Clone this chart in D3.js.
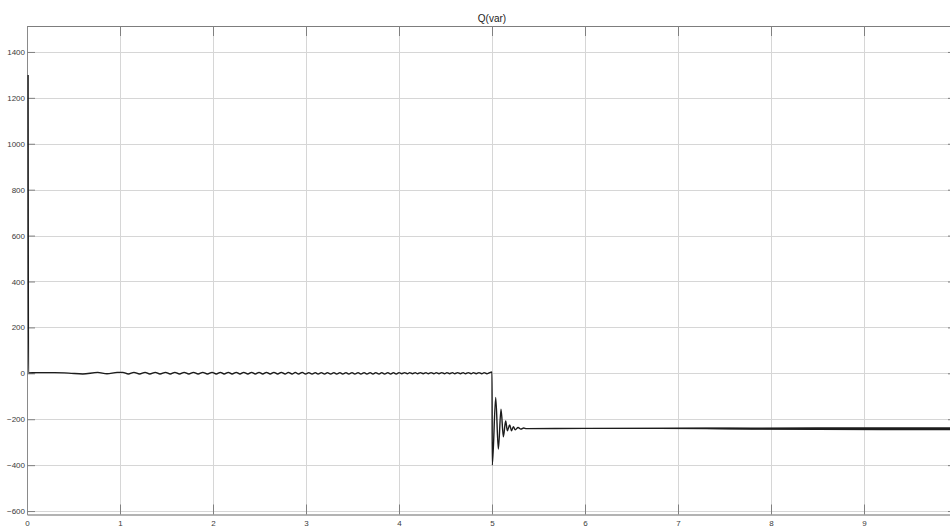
<!DOCTYPE html>
<html>
<head>
<meta charset="utf-8">
<script src="https://cdn.jsdelivr.net/npm/d3@7"></script>
<style>
  html, body { margin: 0; padding: 0; background: #fff; }
  svg { display: block; font-family: "Liberation Sans", Arial, sans-serif; }
</style>
</head>
<body>
<svg id="chart" width="950" height="527"></svg>
<script>
// ---- chart data ----------------------------------------------------------
const title = "Q(var)";
const xTicks = [0, 1, 2, 3, 4, 5, 6, 7, 8, 9];
const yTicks = [-600, -400, -200, 0, 200, 400, 600, 800, 1000, 1200, 1400];
const xDomain = [0, 10];
const yDomain = [-615, 1513];

// start-up spike and the first second near zero
const startT = [0.012, 0.016, 0.1, 0.3, 0.45, 0.6, 0.76, 0.86, 0.97];
const startQ = [1300, 2, 3, 3, 1, -3, 4, -2, 4];

// small oscillation around zero, 1 s .. 5 s (extrema)
const oscT = [
  1.03, 1.09, 1.15, 1.21, 1.27, 1.32, 1.38, 1.43, 1.49, 1.54, 1.59, 1.64, 1.69, 1.74, 1.79, 1.84, 1.89, 1.94, 1.99,
  2.035, 2.08, 2.12, 2.165, 2.205, 2.25, 2.29, 2.33, 2.375, 2.415, 2.455, 2.495, 2.535, 2.575, 2.615, 2.655, 2.695, 2.735, 2.775, 2.81, 2.85, 2.885, 2.92, 2.96, 2.995,
  3.03, 3.065, 3.1, 3.13, 3.165, 3.2, 3.23, 3.265, 3.3, 3.33, 3.365, 3.395, 3.43, 3.46, 3.495, 3.525, 3.56, 3.59, 3.625, 3.655, 3.69, 3.72, 3.75, 3.785, 3.815, 3.845, 3.88, 3.91, 3.94, 3.97,
  4.0, 4.03, 4.06, 4.09, 4.115, 4.145, 4.175, 4.2, 4.23, 4.26, 4.29, 4.315, 4.345, 4.375, 4.4, 4.43, 4.46, 4.49, 4.515, 4.545, 4.575, 4.6, 4.63, 4.66, 4.69, 4.715, 4.745, 4.775, 4.8, 4.83, 4.86, 4.89, 4.915, 4.945, 4.975
];
const oscQ = [
  4, -3, 4, -3, 4, -3, 4, -3, 4, -3, 4, -3, 4, -3, 4, -3, 4, -3, 4,
  -3, 4, -3, 4, -3, 4, -3, 4, -3, 4, -3, 4, -3, 4, -3, 4, -3, 4, -3, 4, -3, 4, -3, 4, -3,
  3, -3, 3, -3, 3, -3, 3, -3, 3, -3, 3, -3, 3, -3, 3, -3, 3, -3, 3, -3, 3, -3, 3, -3, 3, -3, 3, -3, 3, -3,
  3, -2, 3, -2, 3, -2, 3, -2, 3, -2, 3, -2, 3, -2, 3, -2, 3, -2, 3, -2, 3, -2, 3, -2, 3, -2, 3, -2, 3, -2, 3, -2, 3, -2, 3
];

// step at 5 s and the damped transient
const stepT = [5.0, 5.003, 5.04, 5.068, 5.097, 5.122, 5.147, 5.165, 5.19, 5.21, 5.23, 5.25, 5.28, 5.31, 5.34];
const stepQ = [6, -400, -105, -330, -156, -276, -208, -250, -225, -250, -232, -246, -236, -243, -238];

// settled level with its fast ripple (half band width)
const settleT = [5.37, 6.0, 6.8, 7.3, 7.8, 8.5, 9.2, 10];
const settleQ = [-241, -240, -240, -240, -241, -241, -241, -241];
const settleRipple = [2, 2, 2.5, 4, 5, 6, 6.5, 6.5];

// ---- layout ------------------------------------------------------------
const plot = { left: 27, right: 957, top: 26, bottom: 514.5 };

const x = d3.scaleLinear().domain(xDomain).range([plot.left, plot.right]);
const y = d3.scaleLinear().domain(yDomain).range([plot.bottom, plot.top]);

const svg = d3.select("#chart");

svg.append("defs").append("clipPath").attr("id", "plot-clip")
  .append("rect")
  .attr("x", plot.left).attr("y", plot.top)
  .attr("width", plot.right - plot.left).attr("height", plot.bottom - plot.top);

const crisp = v => Math.round(v) + 0.5;

// grid
const grid = svg.append("g").attr("stroke", "#d6d6d6").attr("stroke-width", 1);
grid.selectAll("line.gx").data(xTicks.filter(d => d > 0)).join("line")
  .attr("class", "gx")
  .attr("x1", d => crisp(x(d))).attr("x2", d => crisp(x(d)))
  .attr("y1", plot.top).attr("y2", plot.bottom);
grid.selectAll("line.gy").data(yTicks).join("line")
  .attr("class", "gy")
  .attr("x1", plot.left).attr("x2", plot.right)
  .attr("y1", d => crisp(y(d))).attr("y2", d => crisp(y(d)));

// axes
function styleAxis(g, domainColor, domainWidth) {
  g.select(".domain").attr("stroke", domainColor).attr("stroke-width", domainWidth);
  g.selectAll(".tick line").attr("stroke", "#808080");
  g.selectAll(".tick text").attr("fill", "#3a3a3a").attr("font-size", 8)
    .attr("font-family", "'Liberation Sans', Arial, sans-serif");
}

svg.append("g")
  .attr("transform", `translate(0,${plot.bottom})`)
  .call(d3.axisBottom(x).tickValues(xTicks).tickFormat(d3.format("d")).tickSize(-10).tickPadding(6).tickSizeOuter(0))
  .call(g => styleAxis(g, "#b3b3b3", 2));

svg.append("g")
  .attr("transform", `translate(0,${plot.top})`)
  .call(d3.axisTop(x).tickValues(xTicks).tickFormat("").tickSize(-10).tickSizeOuter(0))
  .call(g => styleAxis(g, "#7d7d7d", 1));

svg.append("g")
  .attr("transform", `translate(${plot.left},0)`)
  .call(d3.axisLeft(y).tickValues(yTicks).tickFormat(d3.format("d")).tickSize(-8).tickPadding(2).tickSizeOuter(0))
  .call(g => styleAxis(g, "#8a8a8a", 1));

svg.append("g")
  .attr("transform", `translate(${plot.right},0)`)
  .call(d3.axisRight(y).tickValues(yTicks).tickFormat("").tickSize(-9).tickSizeOuter(0))
  .call(g => styleAxis(g, "#8a8a8a", 1));

// title
svg.append("text")
  .attr("x", (plot.left + plot.right) / 2).attr("y", 22)
  .attr("text-anchor", "middle")
  .attr("font-size", 10).attr("fill", "#222")
  .text(title);

// ---- signal --------------------------------------------------------------
const zip = (ts, qs) => ts.map((t, i) => ({ t, q: qs[i] }));
const series = [].concat(
  zip(startT, startQ),
  zip(oscT, oscQ),
  zip(stepT, stepQ),
  zip(settleT, settleQ)
);

const layer = svg.append("g").attr("clip-path", "url(#plot-clip)");

// ripple band of the settled part
const band = settleT.map((t, i) => ({ t, q: settleQ[i], r: settleRipple[i] }));
layer.append("path")
  .datum(band)
  .attr("fill", "#1c1c1c")
  .attr("d", d3.area()
    .x(d => x(d.t))
    .y0(d => y(d.q - d.r))
    .y1(d => y(d.q + d.r)));

layer.append("path")
  .datum(series)
  .attr("fill", "none")
  .attr("stroke", "#1c1c1c")
  .attr("stroke-width", 1.4)
  .attr("stroke-linejoin", "round")
  .attr("d", d3.line().curve(d3.curveMonotoneX).x(d => x(d.t)).y(d => y(d.q)));
</script>
</body>
</html>
